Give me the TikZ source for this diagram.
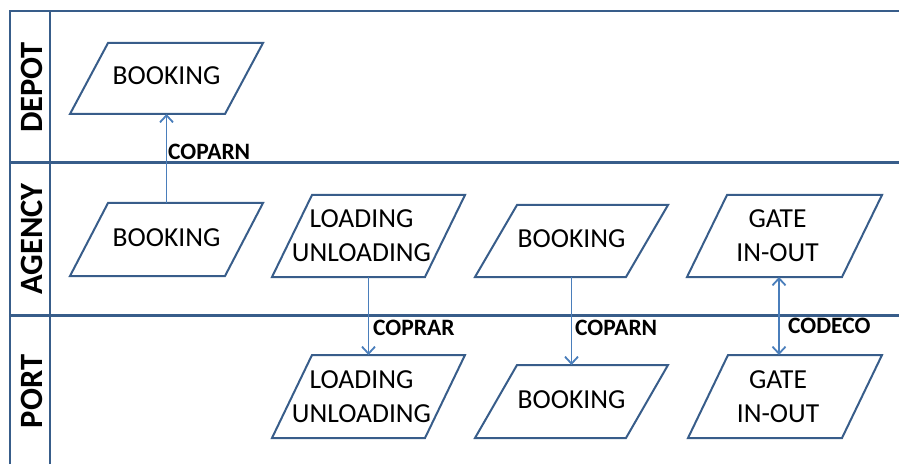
\documentclass[tikz,border=0pt]{standalone}
\usepackage{fontspec}
\setmainfont{Carlito}
\usetikzlibrary{arrows.meta,calc}
\definecolor{frameblue}{HTML}{385D8A}
\definecolor{arrowblue}{HTML}{4A7EBB}
\newcommand\drawpara[2]{%
  \draw[paraline] (#1.south west) -- ($(#1.south east)+(-#2,0)$) -- (#1.north east) -- ($(#1.north west)+(#2,0)$) -- cycle;}
\begin{document}
\begin{tikzpicture}[x=1pt,y=1pt,
  para/.style={rectangle, draw=none, minimum width=193pt, inner sep=0pt, outer sep=0pt,
    font=\fontsize{27.5}{34}\selectfont, align=center},
  paraline/.style={draw=frameblue, line width=2pt, line join=miter},
  ptext/.style={inner sep=0pt, align=center, font=\fontsize{27.5}{34}\selectfont},
  lane/.style={rotate=90, inner sep=0pt, font=\fontsize{32.5}{36}\selectfont\bfseries},
  msg/.style={anchor=west, inner sep=0pt, font=\fontsize{23.5}{26}\selectfont\bfseries},
  flow/.style={draw=arrowblue, line width=1.8pt, -{Straight Barb[length=7pt,width=13pt]}},
  flow2/.style={draw=arrowblue, line width=1.8pt, {Straight Barb[length=7pt,width=13pt]}-{Straight Barb[length=7pt,width=13pt]}},
  gridline/.style={draw=frameblue, line width=2.5pt}]
\useasboundingbox (0,0) rectangle (899,464);
% frame
\draw[gridline] (10,0) -- (10,453) -- (899,453);
\draw[gridline] (50,0) -- (50,453);
\draw[gridline] (10,301.5) -- (899,301.5);
\draw[gridline] (10,148.5) -- (899,148.5);
% lane titles
\node[lane] (ldepot) at (31.5,376.5) {DEPOT};
\node[lane] (lagency) at (31.5,225) {AGENCY};
\node[lane] (lport) at (31.5,72.5) {PORT};
% shapes
\node[para, minimum height=71pt] (db) at (166.5,385.5) {};
\node[ptext] (dbtext) at ($(db.center)+(0,3)$) {BOOKING};
\node[para, minimum height=73pt] (ab) at (166.5,224.5) {};
\node[ptext] (abtext) at ($(ab.center)+(0,2)$) {BOOKING};
\node[para, minimum height=82pt] (al) at (368.5,228) {};
\node[ptext] (altext) at ($(al.center)+(-7,0)$) {LOADING\\UNLOADING};
\node[para, minimum height=83pt] (pl) at (368.5,67.5) {};
\node[ptext] (pltext) at ($(pl.center)+(-7,0)$) {LOADING\\UNLOADING};
\node[para, minimum height=72pt] (ab2) at (571.5,223) {};
\node[ptext] (ab2text) at ($(ab2.center)+(0,2)$) {BOOKING};
\node[para, minimum height=73pt] (pb) at (571.5,62.5) {};
\node[ptext] (pbtext) at ($(pb.center)+(0,2)$) {BOOKING};
\node[para, minimum height=82pt, minimum width=195pt] (ag) at (784.5,228) {};
\node[ptext] (agtext) at ($(ag.center)+(-7,0)$) {GATE\\IN-OUT};
\node[para, minimum height=83pt, minimum width=194pt] (pg) at (785,67.5) {};
\node[ptext] (pgtext) at ($(pg.center)+(-7,0)$) {GATE\\IN-OUT};
\drawpara{db}{38}
\drawpara{ab}{38}
\drawpara{al}{40}
\drawpara{pl}{40}
\drawpara{ab2}{42}
\drawpara{pb}{42}
\drawpara{ag}{40}
\drawpara{pg}{40}
% connectors
\draw[flow] (ab.north) -- (db.south);
\draw[flow] (al.south) -- (pl.north);
\draw[flow] (ab2.south) -- (pb.north);
\draw[flow2] ($(ag.south)+(-5.5,0)$) -- ($(pg.north)+(-6,0)$);
% message labels
\node[msg] (m1) at (168,312) {COPARN};
\node[msg] (m2) at (373,136) {COPRAR};
\node[msg] (m3) at (575,136) {COPARN};
\node[msg] (m4) at (788,138) {CODECO};
\end{tikzpicture}
\end{document}
